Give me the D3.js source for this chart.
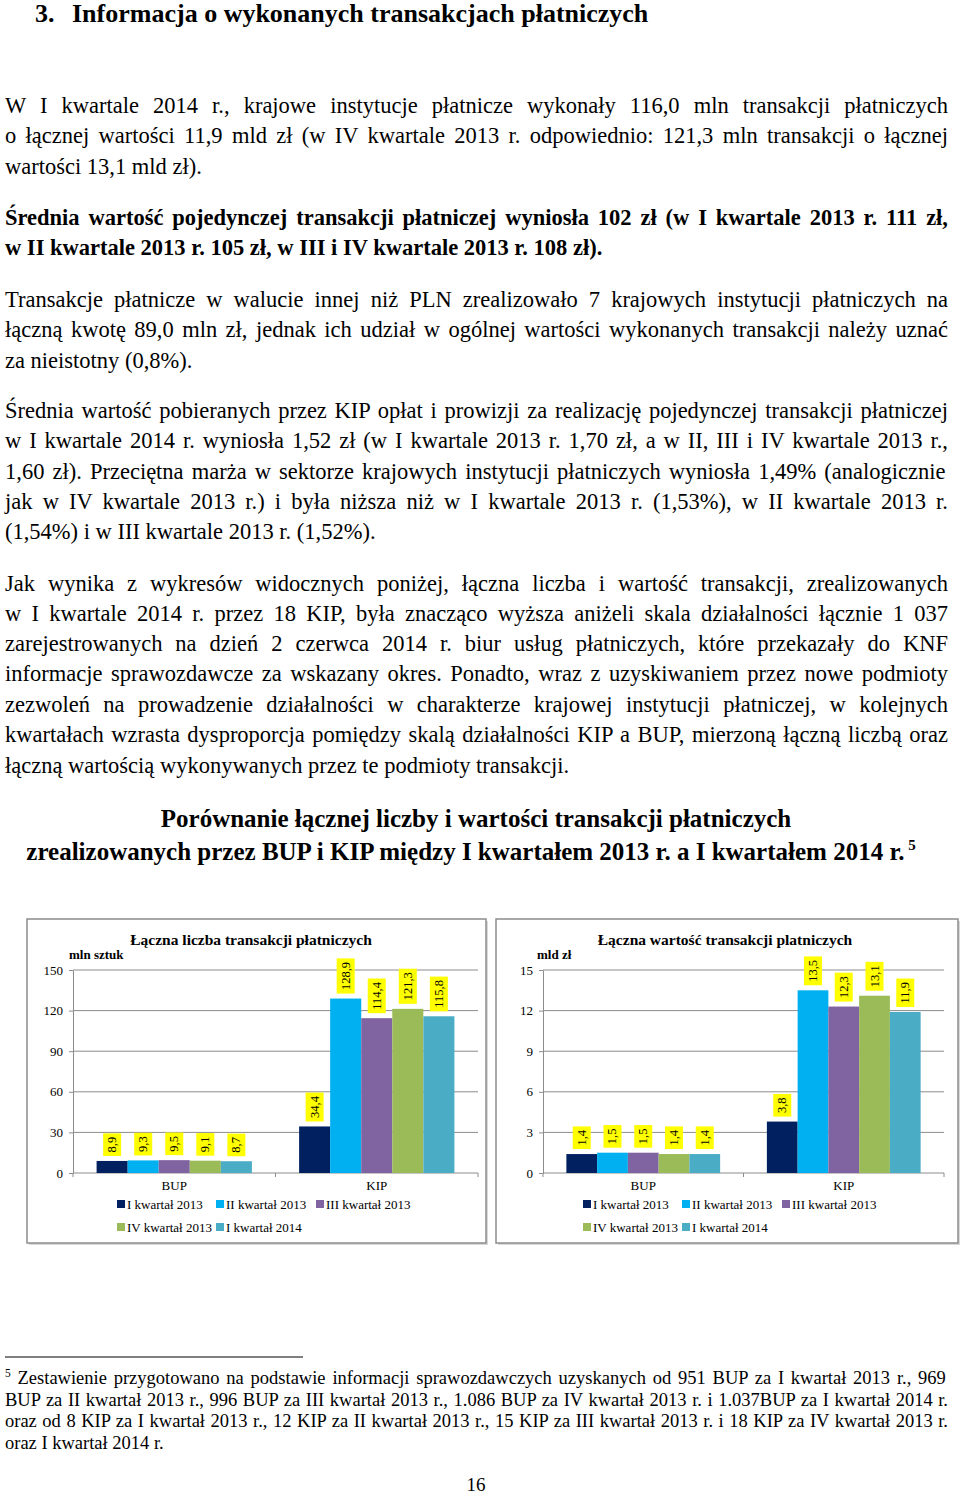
<!DOCTYPE html>
<html><head><meta charset="utf-8">
<script src="https://cdn.jsdelivr.net/npm/d3@7"></script>
<style>body{margin:0;background:#fff}svg{display:block}</style>
</head><body>
<script>
// ---------- data ----------
const categories = ["BUP", "KIP"];
const seriesNames = ["I kwartał 2013", "II kwartał 2013", "III kwartał 2013", "IV kwartał 2013", "I kwartał 2014"];
const seriesColors = ["#002060", "#00b0f0", "#8064a2", "#9bbb59", "#4bacc6"];
const countBUP = [8.9, 9.3, 9.5, 9.1, 8.7];
const countKIP = [34.4, 128.9, 114.4, 121.3, 115.8];
const valueBUP = [1.4, 1.5, 1.5, 1.4, 1.4];
const valueKIP = [3.8, 13.5, 12.3, 13.1, 11.9];
const countTicks = [0, 30, 60, 90, 120, 150];
const valueTicks = [0, 3, 6, 9, 12, 15];

const FONT = "'Liberation Serif','Times New Roman',serif";
const svg = d3.select("body").append("svg").attr("width", 960).attr("height", 1496)
  .style("font-family", FONT);

// ---------- text ----------
function line(txt, x, y, size, opts = {}) {
  const t = svg.append("text").attr("x", x).attr("y", y).attr("font-size", size)
    .attr("font-weight", opts.bold ? "bold" : "normal").attr("fill", "#000");
  if (opts.sup) {
    t.append("tspan").attr("font-size", size * 0.62).attr("dy", -size * 0.38).text(opts.sup);
    t.append("tspan").attr("dy", size * 0.38).text(txt);
  } else t.text(txt);
  if (opts.justify) {
    const w = t.node().getComputedTextLength();
    const n = ((opts.sup || "") + txt).split(" ").length - 1;
    if (n > 0) t.attr("word-spacing", (opts.justify - w) / n);
  }
  if (opts.anchor) t.attr("text-anchor", opts.anchor);
  return t;
}

line("3.", 35, 22, 26, {bold: true});
line("Informacja o wykonanych transakcjach płatniczych", 72, 22, 26, {bold: true});

const TW = 943, BS = 22.5;
const paras = [
  {bold: false, lines: [
    [113, "W I kwartale 2014 r., krajowe instytucje płatnicze wykonały 116,0 mln transakcji płatniczych"],
    [143, "o łącznej wartości 11,9 mld zł (w IV kwartale 2013 r. odpowiednio: 121,3 mln transakcji o łącznej"],
    [174, "wartości 13,1 mld zł)."]]},
  {bold: true, lines: [
    [225, "Średnia wartość pojedynczej transakcji płatniczej wyniosła 102 zł (w I kwartale 2013 r. 111 zł,"],
    [255, "w II kwartale 2013 r. 105 zł, w III i IV kwartale 2013 r. 108 zł)."]]},
  {bold: false, lines: [
    [307, "Transakcje płatnicze w walucie innej niż PLN zrealizowało 7 krajowych instytucji płatniczych na"],
    [337, "łączną kwotę 89,0 mln zł, jednak ich udział w ogólnej wartości wykonanych transakcji należy uznać"],
    [368, "za nieistotny (0,8%)."]]},
  {bold: false, lines: [
    [418, "Średnia wartość pobieranych przez KIP opłat i prowizji za realizację pojedynczej transakcji płatniczej"],
    [448, "w I kwartale 2014 r. wyniosła 1,52 zł (w I kwartale 2013 r. 1,70 zł, a w II, III i IV kwartale 2013 r.,"],
    [479, "1,60 zł).  Przeciętna marża w sektorze krajowych instytucji płatniczych wyniosła 1,49% (analogicznie"],
    [509, "jak w IV kwartale 2013 r.) i była niższa niż w I kwartale 2013 r. (1,53%), w II kwartale 2013 r."],
    [539, "(1,54%) i w III kwartale 2013 r. (1,52%)."]]},
  {bold: false, lines: [
    [591, "Jak wynika z wykresów widocznych poniżej, łączna liczba i wartość transakcji, zrealizowanych"],
    [621, "w I kwartale 2014 r. przez 18 KIP, była znacząco wyższa aniżeli skala działalności łącznie 1 037"],
    [651, "zarejestrowanych na dzień 2 czerwca 2014 r. biur usług płatniczych, które przekazały do KNF"],
    [681, "informacje sprawozdawcze za wskazany okres. Ponadto, wraz z uzyskiwaniem przez nowe podmioty"],
    [712, "zezwoleń na prowadzenie działalności w charakterze krajowej instytucji płatniczej, w kolejnych"],
    [742, "kwartałach wzrasta dysproporcja pomiędzy skalą działalności KIP a BUP, mierzoną łączną liczbą oraz"],
    [773, "łączną wartością wykonywanych przez te podmioty transakcji."]]}
];
paras.forEach(p => p.lines.forEach((l, i) => {
  line(l[1], 5, l[0], BS, {bold: p.bold, justify: i < p.lines.length - 1 ? TW : null});
}));

line("Porównanie łącznej liczby i wartości transakcji płatniczych", 476, 827, 25, {bold: true, anchor: "middle"});
const t2 = line("zrealizowanych przez BUP i KIP między I kwartałem 2013 r. a I kwartałem 2014 r.", 471, 860, 25, {bold: true, anchor: "middle"});
t2.append("tspan").attr("font-size", 15).attr("dy", -10).text(" 5");

// footnote
svg.append("line").attr("x1", 5).attr("x2", 303).attr("y1", 1357).attr("y2", 1357).attr("stroke", "#000").attr("stroke-width", 1);
const FS = 18.5;
line(" Zestawienie przygotowano na podstawie informacji sprawozdawczych uzyskanych od  951 BUP za I kwartał 2013 r., 969", 5, 1384, FS, {sup: "5", justify: TW});
line("BUP za II kwartał 2013 r., 996 BUP za III kwartał 2013 r., 1.086 BUP za IV kwartał 2013 r. i 1.037BUP za I kwartał 2014 r.", 5, 1406, FS, {justify: TW});
line("oraz od 8 KIP za I kwartał 2013 r., 12 KIP za II kwartał 2013 r., 15 KIP za III kwartał 2013 r. i 18 KIP za IV kwartał 2013 r.", 5, 1427, FS, {justify: TW});
line("oraz I kwartał 2014 r.", 5, 1449, FS);
line("16", 476, 1491, 19, {anchor: "middle"});

// ---------- charts ----------
function drawChart(cfg) {
  const g = svg.append("g");
  g.append("rect").attr("x", cfg.bx + 2).attr("y", 921).attr("width", cfg.bw).attr("height", 324).attr("fill", "#d9d9d9");
  g.append("rect").attr("x", cfg.bx).attr("y", 919).attr("width", cfg.bw).attr("height", 324)
    .attr("fill", "#fff").attr("stroke", "#8c8c8c").attr("stroke-width", 1.5);
  g.append("text").attr("x", cfg.titleX).attr("y", 945).attr("text-anchor", "middle")
    .attr("font-size", 15.5).attr("font-weight", "bold").text(cfg.title);
  g.append("text").attr("x", cfg.unitX).attr("y", 959).attr("font-size", 13)
    .attr("font-weight", "bold").text(cfg.unit);

  const y = d3.scaleLinear().domain([0, cfg.ticks[cfg.ticks.length - 1]]).range([1173, 970]);
  const x0 = d3.scaleBand().domain(categories).range([cfg.left, cfg.right]);
  const x1 = d3.scaleBand().domain(seriesNames).range([0, x0.bandwidth()]).paddingOuter(0.76);

  g.selectAll(".grid").data(cfg.ticks.filter(d => d > 0)).join("line")
    .attr("x1", cfg.left).attr("x2", cfg.right).attr("y1", d => y(d)).attr("y2", d => y(d))
    .attr("stroke", "#8c8c8c").attr("stroke-width", 1);

  const ya = g.append("g").attr("transform", `translate(${cfg.left},0)`)
    .call(d3.axisLeft(y).tickValues(cfg.ticks).tickSize(4).tickPadding(6).tickSizeOuter(0));
  ya.selectAll("text").attr("font-size", 13).attr("font-family", FONT).attr("fill", "#000");
  ya.selectAll("line,path").attr("stroke", "#8c8c8c");

  const xa = g.append("g").attr("transform", `translate(0,${y(0)})`)
    .call(d3.axisBottom(x0).tickSize(0).tickPadding(8));
  xa.selectAll("text").attr("font-size", 13).attr("font-family", FONT).attr("fill", "#000");
  xa.select("path").attr("stroke", "#8c8c8c").attr("d", `M${cfg.left},0H${cfg.right}`);
  const edges = [cfg.left].concat(categories.map(c => x0(c) + x0.bandwidth()));
  xa.selectAll(".edge").data(edges).join("line").attr("x1", d => d).attr("x2", d => d)
    .attr("y1", 0).attr("y2", 4).attr("stroke", "#8c8c8c");

  const rows = [];
  categories.forEach((c, ci) => seriesNames.forEach((s, si) =>
    rows.push({c, s, si, v: cfg.values[ci][si]})));

  g.selectAll(".bar").data(rows).join("rect")
    .attr("x", d => x0(d.c) + x1(d.s)).attr("width", x1.bandwidth())
    .attr("y", d => y(d.v)).attr("height", d => y(0) - y(d.v))
    .attr("fill", d => seriesColors[d.si]);

  const lbl = g.selectAll(".lbl").data(rows).join("g")
    .attr("transform", d => `translate(${x0(d.c) + x1(d.s) + x1.bandwidth() / 2},${y(d.v) - 5})`);
  lbl.each(function (d) {
    const gg = d3.select(this);
    const r = gg.append("rect").attr("fill", "#ffff00");
    const t = gg.append("text").attr("transform", "rotate(-90)").attr("font-size", 12.5)
      .attr("dominant-baseline", "central").attr("x", 3.5).attr("y", 0).text(d3.format(".1f")(d.v).replace(".", ","));
    const len = t.node().getComputedTextLength();
    r.attr("x", -9).attr("width", 18).attr("y", -(len + 7)).attr("height", len + 7);
  });

  const leg = [[0, 0], [99, 0], [199, 0], [0, 1], [99, 1]];
  seriesNames.forEach((s, i) => {
    const lx = cfg.bx + cfg.legX + leg[i][0], ly = 1204 + leg[i][1] * 23;
    g.append("rect").attr("x", lx).attr("y", ly - 4).attr("width", 8).attr("height", 8).attr("fill", seriesColors[i]);
    g.append("text").attr("x", lx + 10).attr("y", ly).attr("dominant-baseline", "central")
      .attr("font-size", 13).text(s);
  });
}

drawChart({bx: 27, bw: 459, left: 73, right: 478, titleX: 251, unitX: 69,
  title: "Łączna liczba transakcji płatniczych", unit: "mln sztuk",
  ticks: countTicks, values: [countBUP, countKIP], legX: 90});
drawChart({bx: 496, bw: 462, left: 543, right: 944, titleX: 725, unitX: 537,
  title: "Łączna wartość transakcji platniczych", unit: "mld zł",
  ticks: valueTicks, values: [valueBUP, valueKIP], legX: 87});
</script>
</body></html>
